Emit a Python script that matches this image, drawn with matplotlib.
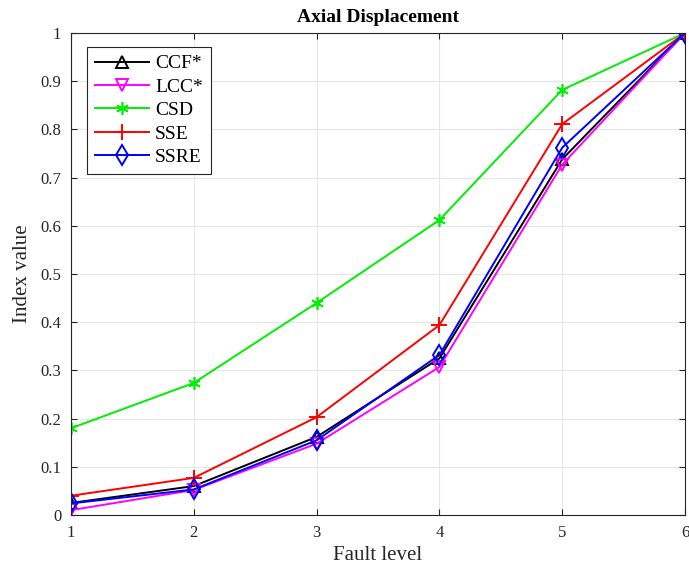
import matplotlib
matplotlib.use("Agg")
import matplotlib.pyplot as plt

plt.rcParams['font.family'] = ['Liberation Serif', 'DejaVu Serif']

# fault levels
levels = [1, 2, 3, 4, 5, 6]

# index values
ccf = [0.025, 0.060, 0.162, 0.325, 0.738, 1.0]
lcc = [0.010, 0.052, 0.148, 0.307, 0.727, 1.0]
csd = [0.180, 0.274, 0.440, 0.612, 0.882, 1.0]
sse = [0.040, 0.077, 0.203, 0.394, 0.811, 1.0]
ssre = [0.024, 0.053, 0.155, 0.332, 0.762, 1.0]

fig = plt.figure(figsize=(6.89, 5.77), dpi=100)
ax = fig.add_axes([71/689, 1 - 515/577, (685-71)/689, (515-33)/577])

lw = 1.4
ax.plot(levels, ccf, color='black', marker='^', mfc='none', ms=9, mew=1.4, lw=lw, label='CCF*')
ax.plot(levels, lcc, color='magenta', marker='v', mfc='none', ms=9, mew=1.4, lw=lw, label='LCC*')
ax.plot(levels, csd, color='#00ee00', marker=(6, 2, 0), ms=9, mew=1.2, lw=lw, label='CSD')
ax.plot(levels, sse, color='red', marker='+', ms=11, mew=1.4, lw=lw, label='SSE')
ax.plot(levels, ssre, color='blue', marker='d', mfc='none', ms=10, mew=1.4, lw=lw, label='SSRE')

ax.set_xlim(1, 6)
ax.set_ylim(0, 1)
ax.set_xticks(levels)
ax.set_yticks([i / 10 for i in range(11)])
ax.set_yticklabels(['0', '0.1', '0.2', '0.3', '0.4', '0.5', '0.6', '0.7', '0.8', '0.9', '1'])
ax.grid(True, color='#e6e6e6', lw=0.8)
ax.set_axisbelow(True)
ax.tick_params(direction='in', top=True, right=True, labelsize=12, colors='#262626', length=4, pad=7)
for s in ax.spines.values():
    s.set_color('#262626')
    s.set_linewidth(0.8)

ax.set_xlabel('Fault level', fontsize=15, color='#262626', labelpad=4)
ax.set_ylabel('Index value', fontsize=15, color='#262626', labelpad=6)
ax.set_title('Axial Displacement', fontsize=14, fontweight='bold', pad=8)

leg = ax.legend(loc='upper left', bbox_to_anchor=(0.026, 0.971), borderaxespad=0, fontsize=14,
                fancybox=False, framealpha=1, edgecolor='#262626', handlelength=2.8, borderpad=0.4,
                labelspacing=0.3, handletextpad=0.3)
leg.get_frame().set_linewidth(0.8)

fig.savefig('out.png', dpi=100)
